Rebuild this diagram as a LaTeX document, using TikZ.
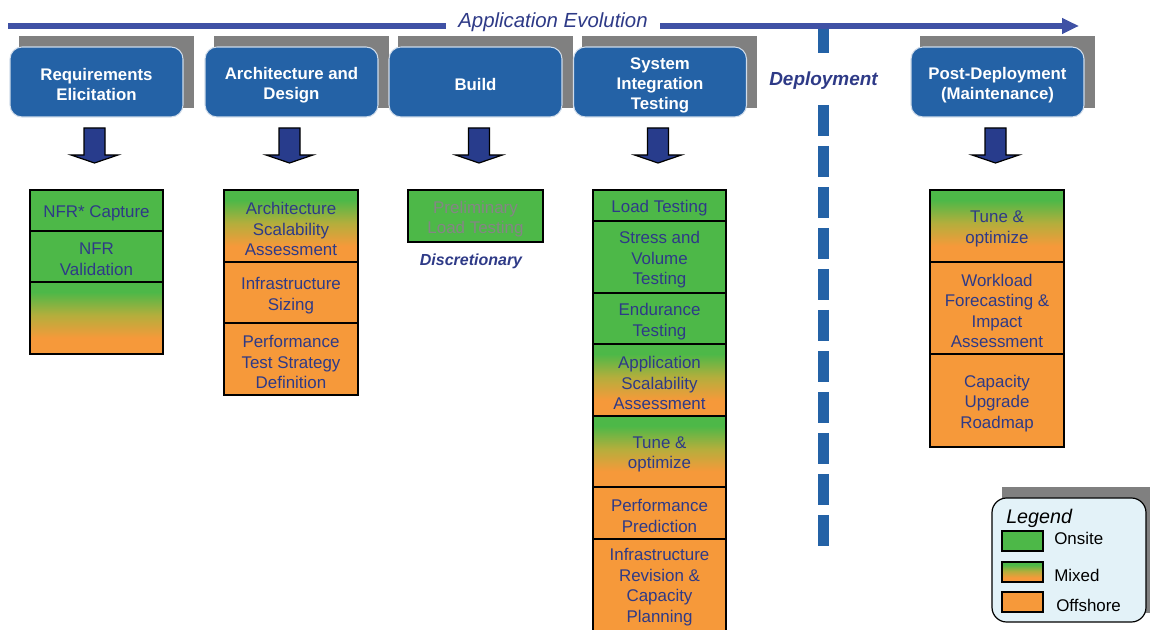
\documentclass[tikz,border=0pt]{standalone}
\usepackage{fontspec}
\setmainfont{Liberation Sans}
\usetikzlibrary{arrows.meta}
\definecolor{hdrblue}{HTML}{2462A6}
\definecolor{hdrborder}{HTML}{D0DCEA}
\definecolor{arrblue}{HTML}{3F51A5}
\definecolor{txtblue}{HTML}{2E3A87}
\definecolor{onsite}{HTML}{4DB848}
\definecolor{offshore}{HTML}{F6993A}
\definecolor{shadowgray}{HTML}{808080}
\definecolor{greytext}{HTML}{858585}
\definecolor{legendbg}{HTML}{E3F2F8}
\definecolor{dkarrow}{HTML}{283C8C}
\definecolor{midmix}{HTML}{B4AE3C}
\pgfdeclareverticalshading{mixedshade}{100bp}{color(0bp)=(offshore); color(36bp)=(offshore); color(52bp)=(midmix); color(68bp)=(onsite); color(100bp)=(onsite)}
\newcommand{\cellbox}[8][]{%
  \node[cellframe,#7,minimum width={(#5-#3)*0.75pt},minimum height={(#6-#4)*0.75pt}] (#2) at ({(#3+#5)/2},{(#4+#6)/2}) {};
  \node[celltext,#1] (#2-t) at ([yshift=-2.25pt]#2.center) {#8};}
\newcommand{\blockdown}[1]{%
  \draw[blockarrow] ({#1-10.5},128) -- ({#1+10.5},128) -- ({#1+10.5},155) -- ({#1+23.5},155) -- (#1,163) -- ({#1-23.5},155) -- ({#1-10.5},155) -- cycle;}
\begin{document}
\begin{tikzpicture}[x=0.75pt,y=-0.75pt,
  hdr/.style={draw=hdrborder, line width=0.8pt, fill=hdrblue, rounded corners=9pt,
    minimum width=129.75pt, minimum height=52.5pt, inner sep=0pt},
  hdrtext/.style={text=white, font=\fontsize{12.6}{15}\selectfont\bfseries, align=center, inner sep=0pt},
  cellframe/.style={draw=black, line width=1pt, inner sep=0pt},
  celltext/.style={text=txtblue, font=\fontsize{12.7}{15.4}\selectfont, align=center, inner sep=0pt},
  onsitecell/.style={fill=onsite},
  mixcell/.style={shading=mixedshade},
  offcell/.style={fill=offshore},
  shadowbox/.style={fill=shadowgray, draw=none},
  blockarrow/.style={fill=dkarrow, draw=black, line width=0.9pt},
  swatch/.style={draw=black, line width=0.8pt, minimum width=30.75pt, minimum height=15pt, inner sep=0pt},
  legtext/.style={anchor=base west, inner sep=0pt, font=\fontsize{12.7}{15}\selectfont, text=black},
]
\useasboundingbox (0,0) rectangle (1150,630);
\clip (0,0) rectangle (1150,630);

% deployment dashed line
\coordinate (dA) at (823.5,28);
\coordinate (dB) at (823.5,53);
\coordinate (dC) at (823.5,105);
\coordinate (dD) at (823.5,546);
\draw[hdrblue, line width=8.25pt] (dA) -- (dB);
\draw[hdrblue, line width=8.25pt, dash pattern=on 23.25pt off 7.5pt] (dC) -- (dD);
\node[text=txtblue, font=\fontsize{14.2}{16}\selectfont\bfseries\itshape] (dep) at (823.5,81) {Deployment};

% top evolution arrow
\coordinate (evoS) at (8,26);
\coordinate (evoE) at (1079,26);
\draw[arrblue, line width=3.9pt, -{Triangle[length=12.75pt, width=11.25pt]}] (evoS) -- (evoE);
\node[fill=white, inner xsep=9.4pt, inner ysep=3pt, text=txtblue, font=\fontsize{15.3}{17}\selectfont\itshape] (evo) at (553,22) {Application Evolution};

% shadows
\fill[shadowbox] (19,36) rectangle (194,108);
\fill[shadowbox] (214,36) rectangle (389,108);
\fill[shadowbox] (398,36) rectangle (573,108);
\fill[shadowbox] (582,36) rectangle (757,108);
\fill[shadowbox] (920,36) rectangle (1095,108);

% headers
\node[hdr] (h1) at (96.5,82) {};
\node[hdr] (h2) at (291.5,82) {};
\node[hdr] (h3) at (475.5,82) {};
\node[hdr] (h4) at (660,82) {};
\node[hdr] (h5) at (997.5,82) {};
\node[hdrtext] (h1t) at ([yshift=-2.25pt]h1.center) {Requirements\\Elicitation};
\node[hdrtext] (h2t) at ([yshift=-2.25pt]h2.center) {Architecture and\\Design};
\node[hdrtext] (h3t) at ([yshift=-2.25pt]h3.center) {Build};
\node[hdrtext] (h4t) at ([yshift=-2.25pt]h4.center) {System\\Integration\\Testing};
\node[hdrtext] (h5t) at ([yshift=-2.25pt]h5.center) {Post-Deployment\\(Maintenance)};

% block arrows
\blockdown{94.5}
\blockdown{289.5}
\blockdown{479}
\blockdown{658}
\blockdown{995.5}

% column 1
\cellbox{c11}{30}{190}{163}{231}{onsitecell}{NFR* Capture}
\cellbox{c12}{30}{231}{163}{282}{onsitecell}{NFR\\Validation}
\cellbox{c13}{30}{282}{163}{354}{mixcell}{}

% column 2
\cellbox{c21}{224}{190}{358}{262}{mixcell}{Architecture\\Scalability\\Assessment}
\cellbox{c22}{224}{262}{358}{323}{offcell}{Infrastructure\\Sizing}
\cellbox{c23}{224}{323}{358}{395}{offcell}{Performance\\Test Strategy\\Definition}

% build
\cellbox[text=greytext]{c31}{408}{190}{543}{242}{onsitecell}{Preliminary\\Load Testing}
\node[text=txtblue, font=\fontsize{12}{14}\selectfont\bfseries\itshape] (disc) at (471,261) {Discretionary};

% SIT
\cellbox{c41}{593}{190}{726}{221}{onsitecell}{Load Testing}
\cellbox{c42}{593}{221}{726}{293}{onsitecell}{Stress and\\Volume\\Testing}
\cellbox{c43}{593}{293}{726}{344}{onsitecell}{Endurance\\Testing}
\cellbox{c44}{593}{344}{726}{416}{mixcell}{Application\\Scalability\\Assessment}
\cellbox{c45}{593}{416}{726}{487}{mixcell}{Tune \&\\optimize}
\cellbox{c46}{593}{487}{726}{539}{offcell}{Performance\\Prediction}
\node[cellframe, offcell, minimum width=99.75pt, minimum height=80.25pt] (c47) at (659.5,592.5) {};
\node[celltext] (c47-t) at (659.5,587) {Infrastructure\\Revision \&\\Capacity\\Planning};

% post deployment
\cellbox{c51}{930}{190}{1064}{262}{mixcell}{Tune \&\\optimize}
\cellbox{c52}{930}{262}{1064}{354}{offcell}{Workload\\Forecasting \&\\Impact\\Assessment}
\cellbox{c53}{930}{354}{1064}{447}{offcell}{Capacity\\Upgrade\\Roadmap}

% legend
\fill[shadowbox] (1002,487) rectangle (1150,613);
\node[draw=black, line width=0.9pt, fill=legendbg, rounded corners=11pt, minimum width=115.5pt, minimum height=93pt, inner sep=0pt] (leg) at (1069,560) {};
\node[anchor=base west, inner sep=0pt, font=\fontsize{14.8}{16}\selectfont\itshape] (legt) at (1006,524) {Legend};
\node[swatch, fill=onsite] (s1) at (1022.5,541) {};
\node[swatch, shading=mixedshade] (s2) at (1022.5,572) {};
\node[swatch, fill=offshore] (s3) at (1022.5,602) {};
\node[legtext] (l1) at (1054,545) {Onsite};
\node[legtext] (l2) at (1054,582) {Mixed};
\node[legtext] (l3) at (1056,612) {Offshore};
\end{tikzpicture}
\end{document}
